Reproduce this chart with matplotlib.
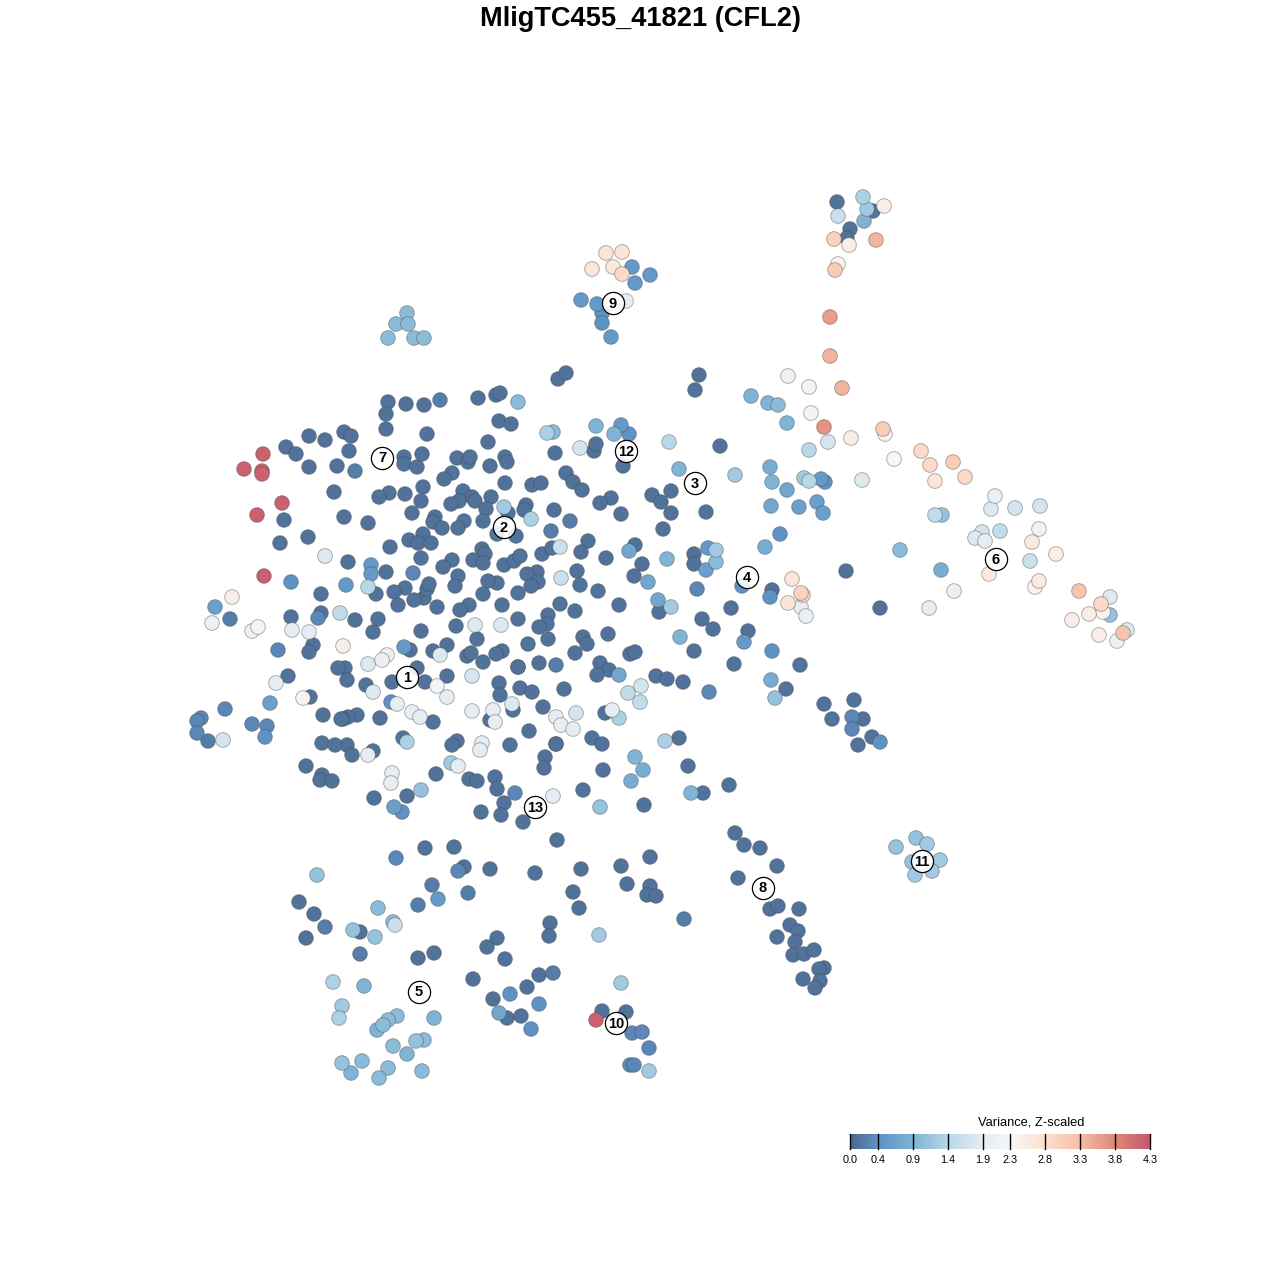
import matplotlib
matplotlib.use("Agg")
import numpy as np
import matplotlib.pyplot as plt
from matplotlib.colors import LinearSegmentedColormap

plt.rcParams["font.family"] = ["Liberation Sans", "DejaVu Sans"]

title = "MligTC455_41821 (CFL2)"
legend_title = "Variance, Z-scaled"
legend_ticks = [0.0, 0.4, 0.9, 1.4, 1.9, 2.3, 2.8, 3.3, 3.8, 4.3]
z_max = 4.3

# dark cells, all about the same low value (x, y in pixels)
dark_z = 0.1
core_dark = [
    (388,402),(406,404),(424,405),(386,414),(386,429),(427,434),(478,398),(496,395),(500,393),
    (499,421),(511,424),(488,442),(344,432),(351,436),(349,451),(404,457),(404,464),(417,467),
    (422,454),(457,458),(468,462),(470,457),(490,466),(505,457),(507,462),(555,453),(452,473),
    (444,479),(505,483),(532,485),(541,483),(566,473),(573,482),(582,490),(611,498),(621,514),
    (389,493),(379,497),(405,494),(423,487),(421,501),(463,491),(472,497),(459,501),(451,504),
    (475,501),(491,497),(486,509),(412,513),(344,517),(368,523),(435,517),(433,522),(442,528),
    (464,521),(458,528),(483,521),(508,513),(526,505),(524,510),(554,510),(497,534),(516,536),
    (423,534),(409,540),(418,543),(431,543),(390,547),(421,558),(452,560),(443,567),(482,549),
    (485,554),(473,560),(483,563),(504,565),(514,561),(520,556),(542,554),(552,548),(588,541),
    (581,552),(606,558),(635,545),(634,576),(577,571),(580,585),(598,591),(619,605),(537,572),
    (527,574),(538,582),(531,586),(518,593),(497,583),(488,581),(483,594),(502,605),(560,604),
    (575,611),(548,615),(547,624),(539,627),(518,619),(548,639),(528,644),(583,637),(587,644),
    (608,634),(575,653),(539,663),(600,663),(609,670),(597,675),(630,654),(635,652),(518,667),
    (502,651),(496,654),(483,662),(467,656),(471,653),(477,639),(456,626),(469,605),(460,610),
    (437,607),(424,598),(427,589),(429,584),(414,600),(405,588),(394,592),(398,605),(376,594),
    (386,572),(458,576),(455,586),(348,562),(355,620),(378,619),(373,632),(421,631),(447,645),
    (433,651),(410,650),(447,676),(417,668),(345,668),(338,668),(347,680),(366,685),(392,682),
    (425,682),(499,683),(500,695),(520,688),(532,692),(564,689),(433,722),(380,718),(357,715),
    (348,717),(343,719),(490,720),(513,710),(543,707),(529,731),(605,713),(603,770),(583,790),
    (557,840),(592,738),(602,744),(556,744),(545,757),(544,768),(510,745),(457,741),(452,745),
    (403,738),(347,745),(352,755),(373,751),(436,774),(407,796),(374,798),(469,779),(477,781),
    (495,777),(497,789),(504,803),(481,812),(501,815),(523,822),(558,379),(566,373),(594,451),
    (596,444),(623,466),(600,503),
]
left_dark = [
    (309,436),(325,440),(286,447),(296,454),(309,467),(337,466),(334,492),(284,520),(308,537),
    (280,543),(321,594),(321,613),(291,617),(313,645),(309,652),(288,676),(310,697),(323,715),
    (341,719),(322,743),(335,745),(306,766),(322,775),(320,780),(332,781),
]
right_dark = [
    (699,375),(695,390),(720,446),(652,495),(661,502),(671,491),(671,513),(706,512),(663,529),
    (694,554),(694,564),(642,564),(659,612),(702,619),(713,629),(731,608),(772,590),(748,631),
    (694,651),(734,664),(800,665),(786,689),(656,676),(667,679),(683,682),(824,704),(854,700),
    (832,719),(863,719),(872,737),(858,745),(679,738),(688,766),(703,793),(729,785),(644,805),
    (846,571),(880,608),(837,202),(873,211),(850,229),(847,238),
]
trail_dark = [
    (735,833),(744,845),(760,848),(777,866),(738,878),(770,909),(778,906),(799,909),(790,925),
    (798,931),(777,937),(795,942),(793,955),(804,954),(814,950),(824,968),(819,969),(820,981),
    (803,979),(815,988),
]
bottom_dark = [
    (425,848),(454,847),(464,867),(490,869),(535,873),(581,869),(621,866),(650,857),(627,884),
    (650,886),(647,895),(656,896),(573,892),(579,908),(550,923),(549,936),(497,938),(487,947),
    (505,959),(434,953),(418,958),(473,979),(539,975),(527,987),(493,999),(507,1018),(521,1016),
    (602,1011),(626,1012),(299,902),(314,914),(306,938),(360,932),
]

# cells with their own value (x, y, z)
core_colored = [
    (440,400,0.2),(518,402,1.0),(355,471,0.2),(570,521,0.2),(551,531,0.2),(413,573,0.3),
    (371,565,0.5),(371,574,0.5),(346,585,0.5),(404,647,0.5),(629,551,0.7),(619,675,0.7),
    (504,507,1.2),(531,519,1.3),(560,547,1.6),(561,578,1.6),(368,587,1.4),(475,625,1.8),
    (501,625,1.8),(472,676,1.7),(440,655,1.8),(387,655,2.0),(382,660,2.0),(368,664,1.8),
    (343,646,2.5),(547,433,1.3),(553,432,1.0),(580,448,1.7),(596,426,0.9),(621,425,0.5),
    (614,434,0.9),(629,434,0.4),(340,613,1.5),(373,692,1.8),(437,686,2.2),(447,697,1.9),
    (391,702,0.4),(397,704,1.9),(412,712,1.9),(420,717,1.9),(472,711,1.9),(493,710,1.9),
    (495,722,1.9),(512,704,1.8),(556,744,0.1),(556,717,1.9),(561,725,1.9),(573,729,1.9),
    (576,713,1.7),(612,710,1.9),(619,718,1.3),(628,693,1.5),(641,686,1.7),(640,702,1.5),
    (635,757,0.9),(631,781,0.8),(643,770,0.8),(600,807,1.1),(553,796,1.9),(482,743,1.9),
    (480,750,1.9),(407,742,1.3),(368,755,1.9),(451,763,1.2),(458,766,1.9),(392,773,1.9),
    (391,783,1.9),(421,790,1.1),(394,807,0.6),(402,812,0.4),(515,793,0.3),(556,665,0.2),
    (518,667,0.1),
]
left_colored = [
    (263,454,4.2),(244,469,4.2),(262,471,4.2),(262,474,4.2),(282,503,4.2),(257,515,4.2),
    (264,576,4.2),(318,618,0.3),(278,650,0.3),(291,582,0.4),(325,556,1.8),(292,630,1.9),
    (309,632,1.9),(252,631,2.0),(258,627,2.4),(212,623,2.0),(232,597,2.5),(215,607,0.6),
    (230,619,0.2),(276,683,1.9),(270,703,0.6),(303,698,2.4),(225,709,0.3),(201,718,0.3),
    (197,721,0.3),(197,733,0.3),(208,741,0.2),(223,740,1.7),(252,724,0.3),(267,726,0.3),
    (265,737,0.4),
]
right_colored = [
    (669,442,1.4),(679,469,0.9),(735,475,1.2),(770,467,0.8),(772,482,0.9),(787,490,0.7),
    (804,478,1.2),(809,481,1.4),(821,479,0.5),(825,482,0.4),(817,502,0.6),(823,513,0.6),
    (799,507,0.6),(771,506,0.7),(780,534,0.4),(765,547,0.8),(862,480,1.8),(708,548,0.5),
    (716,550,1.2),(716,562,1.0),(706,570,0.6),(667,559,0.9),(648,582,0.7),(697,589,0.3),
    (658,600,0.7),(671,607,1.2),(742,586,0.4),(770,597,0.4),(744,642,0.5),(680,637,0.9),
    (772,651,0.4),(771,680,0.8),(775,698,1.1),(709,692,0.3),(852,717,0.3),(852,729,0.3),
    (880,742,0.4),(665,741,1.3),(691,793,0.9),(900,550,1.0),(941,570,0.8),(929,608,1.9),
    (954,591,2.0),(792,579,2.7),(801,593,3.0),(803,595,2.9),(788,603,2.7),(801,607,1.9),
    (806,616,2.0),
]
arm_colored = [
    (751,396,0.9),(768,403,0.9),(778,405,1.0),(787,423,0.9),(788,376,2.1),(809,387,2.2),
    (811,413,2.4),(824,427,3.7),(842,388,3.4),(830,356,3.4),(830,317,3.6),(828,442,1.7),
    (809,450,1.4),(851,438,2.5),(885,434,2.4),(883,429,3.1),(894,459,2.3),(921,451,2.9),
    (930,465,2.9),(935,481,2.7),(953,462,3.1),(965,477,2.9),(935,515,1.5),(942,515,1.1),
    (995,496,2.0),(991,509,1.8),(1015,508,1.7),(1040,506,1.7),(1039,529,2.1),(982,532,1.7),
    (975,538,1.8),(1000,531,1.5),(985,541,1.9),(1056,554,2.5),(1032,542,2.6),(1030,561,1.6),
    (989,574,2.6),(1039,581,2.6),(1035,587,2.4),(1079,591,3.2),(1110,597,1.8),(1101,604,2.9),
    (1089,614,2.5),(1103,612,2.4),(1110,615,1.1),(1072,620,2.5),(1099,635,2.5),(1123,633,3.2),
    (1127,630,1.8),(1117,641,2.1),
]
top_colored = [
    (863,197,1.3),(867,209,1.2),(884,206,2.5),(838,216,1.6),(864,221,0.9),(834,239,3.0),
    (849,245,2.5),(876,240,3.4),(838,264,2.4),(835,270,3.1),
    (606,253,2.7),(622,252,2.7),(592,269,2.7),(613,267,2.6),(622,274,2.9),(632,267,0.5),
    (650,275,0.5),(635,283,0.5),(581,300,0.5),(597,304,0.5),(626,301,1.9),(602,313,0.4),
    (602,323,0.4),(611,337,0.5),
    (407,313,1.0),(396,324,1.0),(408,324,1.0),(388,338,1.0),(414,338,1.0),(424,338,1.0),
    (916,838,1.1),(927,844,1.2),(896,847,1.1),(912,862,1.1),(940,860,1.2),(932,871,1.2),
    (915,875,1.2),
]
bottom_colored = [
    (396,858,0.3),(458,871,0.3),(684,919,0.2),(599,935,1.2),(553,973,0.2),(510,994,0.4),
    (539,1004,0.4),(499,1013,0.7),(531,1029,0.4),(621,983,1.2),(596,1020,4.2),(632,1033,0.3),
    (642,1032,0.3),(649,1048,0.3),(630,1065,0.3),(634,1065,0.3),(649,1071,1.2),
    (317,875,1.1),(325,927,0.2),(360,954,0.2),(353,930,1.1),(375,937,1.1),(378,908,1.0),
    (395,925,1.6),(393,922,1.0),(418,905,0.2),(432,885,0.2),(438,899,0.5),(468,893,0.2),
    (333,982,1.3),(364,986,0.9),(342,1006,1.2),(339,1018,1.3),(397,1016,1.0),(434,1018,0.9),
    (388,1020,1.0),(383,1025,1.0),(377,1030,0.9),(393,1046,1.0),(416,1041,1.1),(424,1040,1.0),
    (407,1054,0.9),(342,1063,1.1),(362,1061,1.0),(351,1073,0.9),(388,1068,1.0),(379,1078,1.0),
    (422,1071,1.0),
]

cluster_ids = ["1","2","3","4","5","6","7","8","9","10","11","12","13"]
cluster_x = [407,504,695,747,419,996,382,763,613,616,922,626,535]
cluster_y = [677,527,483,577,992,559,458,888,303,1023,861,451,807]

# same look as the legend bar
cmap = LinearSegmentedColormap.from_list("variance", [
    (0.0, "#4d6a90"), (0.4/z_max, "#5f93c6"), (0.9/z_max, "#7fb4d6"), (1.4/z_max, "#b8d8e8"),
    (1.9/z_max, "#e6edf3"), (2.3/z_max, "#f7f7f6"), (2.8/z_max, "#fde0d0"),
    (3.3/z_max, "#f6bfa6"), (3.8/z_max, "#df8a7a"), (1.0, "#c45a6b"),
])

dark = core_dark + left_dark + right_dark + trail_dark + bottom_dark
colored = core_colored + left_colored + right_colored + arm_colored + top_colored + bottom_colored
cells = [(x, y, dark_z) for x, y in dark] + colored
cells.sort(key=lambda c: c[2])
xs = [c[0] for c in cells]
ys = [c[1] for c in cells]
zs = [c[2] for c in cells]

fig = plt.figure(figsize=(12.8, 12.8), dpi=100)
ax = fig.add_axes([0, 0, 1, 1])
ax.set_xlim(0, 1280)
ax.set_ylim(1280, 0)
ax.axis("off")

ax.scatter(xs, ys, c=zs, cmap=cmap, vmin=0, vmax=z_max, s=112,
           edgecolors=(0.25, 0.25, 0.25, 0.4), linewidths=0.7, zorder=2)

ax.scatter(cluster_x, cluster_y, s=255, c=[(1, 1, 1, 0.88)], edgecolors="black",
           linewidths=0.9, zorder=3)
for label, x, y in zip(cluster_ids, cluster_x, cluster_y):
    ax.text(x, y + 0.5, label, ha="center", va="center", fontsize=10.5,
            fontweight="bold", zorder=4)

ax.text(640, 19.5, title, ha="center", va="center", fontsize=19.6, fontweight="bold")

# colour bar legend
bar = fig.add_axes([850 / 1280, 1 - 1149 / 1280, 300 / 1280, 15 / 1280])
bar.imshow(np.linspace(0, 1, 400)[None, :], cmap=cmap, aspect="auto", extent=[0, z_max, 0, 1])
bar.set_xlim(0, z_max)
bar.set_yticks([])
bar.set_xticks([])
for spine in bar.spines.values():
    spine.set_visible(False)
for t in legend_ticks:
    bar.axvline(t, color="black", lw=1.0, clip_on=False)
    bar.text(t, -0.42, f"{t:.1f}", ha="center", va="top", fontsize=7.8, transform=bar.get_xaxis_transform())
ax.text(1031, 1122.5, legend_title, ha="center", va="center", fontsize=9.3)

fig.savefig("out.png", dpi=100)
